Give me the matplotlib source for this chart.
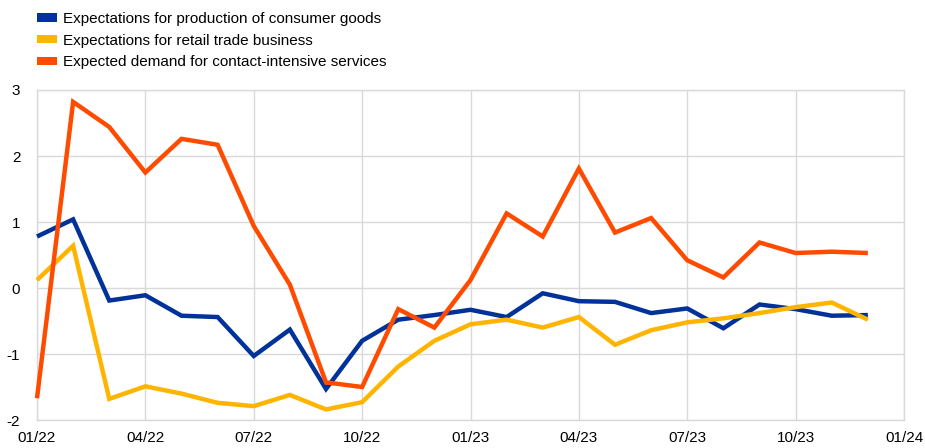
import matplotlib
matplotlib.use("Agg")
import matplotlib.pyplot as plt
from matplotlib.patches import Patch

months = list(range(24))  # 01/22 .. 12/23
tick_labels = ["01/22", "04/22", "07/22", "10/22", "01/23", "04/23", "07/23", "10/23", "01/24"]

consumer_goods = [0.78, 1.04, -0.19, -0.11, -0.42, -0.44, -1.03, -0.63, -1.53, -0.80,
                  -0.48, -0.41, -0.33, -0.44, -0.08, -0.20, -0.21, -0.38, -0.31, -0.61,
                  -0.25, -0.32, -0.42, -0.41]
retail_trade = [0.12, 0.64, -1.68, -1.49, -1.60, -1.74, -1.79, -1.62, -1.84, -1.73,
                -1.19, -0.80, -0.55, -0.48, -0.60, -0.44, -0.86, -0.64, -0.52, -0.46,
                -0.38, -0.29, -0.22, -0.48]
contact_services = [-1.67, 2.82, 2.44, 1.75, 2.26, 2.17, 0.94, 0.05, -1.43, -1.50,
                    -0.32, -0.60, 0.12, 1.13, 0.78, 1.81, 0.84, 1.06, 0.42, 0.16,
                    0.69, 0.53, 0.55, 0.53]

labels = ["Expectations for production of consumer goods",
          "Expectations for retail trade business",
          "Expected demand for contact-intensive services"]
colors = ["#003299", "#FFB400", "#FF4B00"]

plt.rcParams['font.family'] = ['Liberation Sans', 'DejaVu Sans']
plt.rcParams['axes.unicode_minus'] = False

fig = plt.figure(figsize=(9.25, 4.48), dpi=100)
ax = fig.add_axes([37/925, 1 - 420/448, (904 - 37)/925, (420 - 90)/448])

for series, c in zip([consumer_goods, retail_trade, contact_services], colors):
    ax.plot(months, series, color=c, lw=3.2, solid_capstyle='butt', solid_joinstyle='miter', clip_on=False, zorder=3)

ax.set_xlim(0, 24)
ax.set_ylim(-2, 3)
ax.set_xticks(range(0, 25, 3))
ax.set_xticklabels(tick_labels)
ax.set_yticks(range(-2, 4))
ax.tick_params(length=0, labelsize=11, colors="#000000")
ax.tick_params(axis='x', pad=8)
ax.tick_params(axis='y', pad=12)
ax.grid(True, color="#d9d9d9", lw=1)
ax.set_axisbelow(True)
for s in ax.spines.values():
    s.set_color("#d9d9d9")
    s.set_linewidth(1)

handles = [Patch(facecolor=c, edgecolor='none') for c in colors]
fig.legend(handles, labels, loc='upper left', bbox_to_anchor=(37/925, 1 - 12/448),
           frameon=False, fontsize=11, handlelength=1.3, handleheight=0.45,
           handletextpad=0.4, labelspacing=0.5, borderaxespad=0, borderpad=0)

fig.savefig("out.png", dpi=100)
